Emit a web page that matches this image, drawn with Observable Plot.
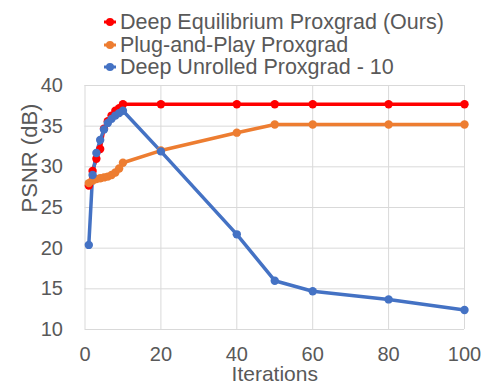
<!DOCTYPE html>
<html>
<head>
<meta charset="utf-8">
<script src="https://cdn.jsdelivr.net/npm/d3@7"></script>
<script src="https://cdn.jsdelivr.net/npm/@observablehq/plot@0.6"></script>
<style>
  html, body { margin: 0; padding: 0; background: #fff; }
  #wrap { position: relative; width: 491px; height: 386px; overflow: hidden; font-family: "Liberation Sans", Arial, sans-serif; }
  #legend { position: absolute; left: 102px; top: 11px; font-size: 21.5px; color: #595959; line-height: 22.5px; }
  .item { display: flex; align-items: center; white-space: nowrap; }
  .item svg { margin-right: 2px; }
</style>
</head>
<body>
<div id="wrap"><div id="chart"></div><div id="legend"></div></div>
<script>
const iterations = [1, 2, 3, 4, 5, 6, 7, 8, 9, 10, 20, 40, 50, 60, 80, 100];
const deqProxgrad = [27.7, 29.5, 31.0, 32.2, 34.7, 35.6, 36.3, 36.9, 37.2, 37.7, 37.7, 37.7, 37.7, 37.7, 37.7, 37.7];
const pnpProxgrad = [28.0, 28.3, 28.5, 28.6, 28.7, 28.8, 29.0, 29.3, 29.8, 30.5, 32.0, 34.2, 35.2, 35.2, 35.2, 35.2];
const unrolledProxgrad = [20.4, 29.0, 31.7, 33.3, 34.6, 35.4, 35.9, 36.3, 36.6, 36.9, 31.9, 21.7, 16.0, 14.7, 13.7, 12.4];
const seriesNames = ["Deep Equilibrium Proxgrad (Ours)", "Plug-and-Play Proxgrad", "Deep Unrolled Proxgrad - 10"];
const seriesColors = ["#ff0000", "#ed7d31", "#4472c4"];
const xTicks = [0, 20, 40, 60, 80, 100];
const yTicks = [10, 15, 20, 25, 30, 35, 40];

const allSeries = [deqProxgrad, pnpProxgrad, unrolledProxgrad];
const rows = [];
allSeries.forEach((vals, s) => vals.forEach((v, i) => rows.push({series: seriesNames[s], x: iterations[i], y: v})));

const color = {domain: seriesNames, range: seriesColors};

const chart = Plot.plot({
  width: 491,
  height: 386,
  marginLeft: 84.5,
  marginRight: 27,
  marginTop: 85,
  marginBottom: 57,
  style: {fontFamily: "Liberation Sans, Arial, sans-serif", fontSize: "20px", color: "#595959", background: "#fff"},
  x: {domain: [0, 100]},
  y: {domain: [10, 40]},
  color,
  marks: [
    Plot.gridX(xTicks, {stroke: "#d9d9d9", strokeOpacity: 1, strokeWidth: 1}),
    Plot.gridY(yTicks, {stroke: "#d9d9d9", strokeOpacity: 1, strokeWidth: 1}),
    Plot.axisX(xTicks, {tickSize: 0, tickPadding: 17, label: null, fill: "#595959", fontSize: 20}),
    Plot.axisY(yTicks, {tickSize: 0, tickPadding: 22, label: null, fill: "#595959", fontSize: 20}),
    Plot.text(["Iterations"], {frameAnchor: "bottom", lineAnchor: "middle", dy: 45, fill: "#595959", fontSize: 21}),
    Plot.text(["PSNR (dB)"], {frameAnchor: "left", y: [24.4], dx: -55, rotate: -90, fill: "#595959", fontSize: 22}),
    Plot.line(rows, {x: "x", y: "y", z: "series", stroke: "series", strokeWidth: 3.5}),
    Plot.dot(rows, {x: "x", y: "y", fill: "series", r: 4.2})
  ]
});
document.getElementById("chart").appendChild(chart);

const legend = document.getElementById("legend");
seriesNames.forEach((name, i) => {
  const div = document.createElement("div");
  div.className = "item";
  div.innerHTML = `<svg width="16" height="10"><line x1="2" x2="14" y1="5" y2="5" stroke="${seriesColors[i]}" stroke-width="3"/><circle cx="8" cy="5" r="4" fill="${seriesColors[i]}"/></svg><span>${name}</span>`;
  legend.appendChild(div);
});
</script>
</body>
</html>
